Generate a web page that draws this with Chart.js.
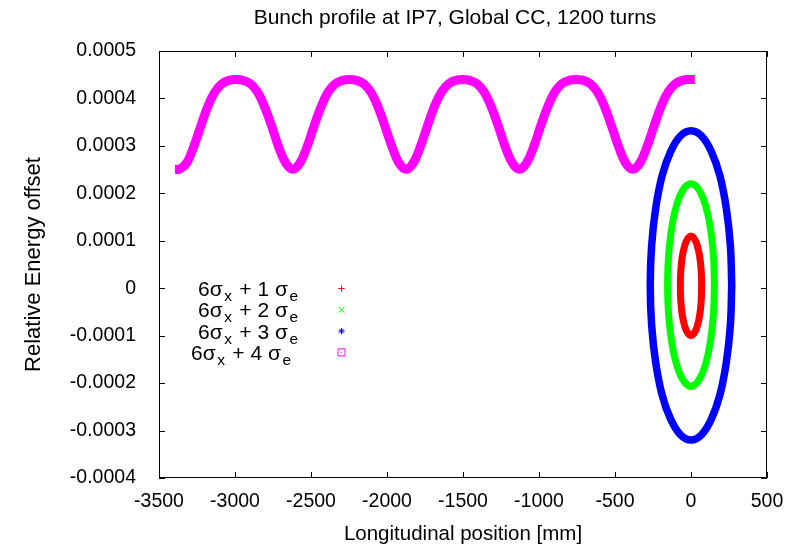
<!DOCTYPE html>
<html lang="en">
<head>
  <meta charset="UTF-8">
  <title>Bunch profile at IP7</title>
  <script src="https://cdn.jsdelivr.net/npm/chart.js"></script>
  <style>
    html, body {
      margin: 0;
      padding: 0;
      background: #fff;
    }
    #wrap {
      width: 802px;
      height: 547px;
    }
  </style>
</head>
<body>
  <div id="wrap"><canvas id="bunchChart" width="802" height="547"></canvas></div>

  <script>
    const FONT = "'Liberation Sans', Arial, Helvetica, sans-serif";
    const FONT_SIZE = 20.5;

    const xTicks = [-3500, -3000, -2500, -2000, -1500, -1000, -500, 0, 500];
    const xTickLabels = ['-3500', '-3000', '-2500', '-2000', '-1500', '-1000', '-500', '0', '500'];
    const yTicks = [-0.0004, -0.0003, -0.0002, -0.0001, 0, 0.0001, 0.0002, 0.0003, 0.0004, 0.0005];
    const yTickLabels = ['-0.0004', '-0.0003', '-0.0002', '-0.0001', '0', '0.0001', '0.0002', '0.0003', '0.0004', '0.0005'];

    // 6 sigma_x + 1 sigma_e : ellipse around the IP
    const redX = [70, 68, 61, 50, 35, 18, 0, -18, -35, -50, -61, -68, -70, -68, -61, -50, -35, -18, 0, 18, 35, 50, 61, 68, 70];
    const redY = [0.000005, 0.000032, 0.000058, 0.000079, 0.000096, 0.000106, 0.000110, 0.000106, 0.000096, 0.000079, 0.000058, 0.000032,
                  0.000005, -0.000022, -0.000048, -0.000069, -0.000086, -0.000096, -0.000100, -0.000096, -0.000086, -0.000069, -0.000048, -0.000022, 0.000005];

    // 6 sigma_x + 2 sigma_e
    const greenX = [154, 149, 133, 109, 77, 40, 0, -40, -77, -109, -133, -149, -154, -149, -133, -109, -77, -40, 0, 40, 77, 109, 133, 149, 154];
    const greenY = [0.000007, 0.000062, 0.000114, 0.000158, 0.000192, 0.000213, 0.000220, 0.000213, 0.000192, 0.000158, 0.000114, 0.000062,
                    0.000007, -0.000048, -0.000100, -0.000144, -0.000178, -0.000199, -0.000207, -0.000199, -0.000178, -0.000144, -0.000100, -0.000048, 0.000007];

    // 6 sigma_x + 3 sigma_e
    const blueX = [268, 259, 232, 190, 134, 69, 0, -69, -134, -190, -232, -259, -268, -259, -232, -190, -134, -69, 0, 69, 134, 190, 232, 259, 268];
    const blueY = [0.000006, 0.000090, 0.000169, 0.000237, 0.000288, 0.000321, 0.000332, 0.000321, 0.000288, 0.000237, 0.000169, 0.000090,
                   0.000006, -0.000078, -0.000157, -0.000225, -0.000276, -0.000309, -0.000320, -0.000309, -0.000276, -0.000225, -0.000157, -0.000078, 0.000006];

    // 6 sigma_x + 4 sigma_e : particles outside the bucket drifting along z
    const magentaX = [-3395,
      -3365, -3318, -3272, -3225, -3179, -3132, -3085, -3039, -2992, -2946, -2899, -2852, -2806, -2759, -2713, -2666,
      -2620, -2573, -2526, -2480, -2433, -2387, -2340, -2293, -2247, -2200, -2154, -2107, -2060, -2014, -1967, -1921,
      -1874, -1827, -1781, -1734, -1688, -1641, -1594, -1548, -1501, -1455, -1408, -1361, -1315, -1268, -1222, -1175,
      -1129, -1082, -1035, -989, -942, -896, -849, -802, -756, -709, -663, -616, -569, -523, -476, -430,
      -383, -336, -290, -243, -197, -150, -103, -57, -10,
      25];
    const magentaY = [0.000251,
      0.000251, 0.000264, 0.000298, 0.000342, 0.000383, 0.000414, 0.000431, 0.000438, 0.000440, 0.000438, 0.000431, 0.000414, 0.000383, 0.000342, 0.000298, 0.000264,
      0.000251, 0.000264, 0.000298, 0.000342, 0.000383, 0.000414, 0.000431, 0.000438, 0.000440, 0.000438, 0.000431, 0.000414, 0.000383, 0.000342, 0.000298, 0.000264,
      0.000251, 0.000264, 0.000298, 0.000342, 0.000383, 0.000414, 0.000431, 0.000438, 0.000440, 0.000438, 0.000431, 0.000414, 0.000383, 0.000342, 0.000298, 0.000264,
      0.000251, 0.000264, 0.000298, 0.000342, 0.000383, 0.000414, 0.000431, 0.000438, 0.000440, 0.000438, 0.000431, 0.000414, 0.000383, 0.000342, 0.000298, 0.000264,
      0.000251, 0.000264, 0.000298, 0.000342, 0.000383, 0.000414, 0.000431, 0.000438, 0.000440,
      0.000440];

    const seriesNames = ['6σ_x + 1 σ_e', '6σ_x + 2 σ_e', '6σ_x + 3 σ_e', '6σ_x + 4 σ_e'];
    const seriesColors = ['#ff0000', '#00ff00', '#0000ff', '#ff00ff'];
    const seriesMarkers = ['cross', 'crossRot', 'star', 'rect'];

    function pts(xs, ys) {
      return xs.map((x, i) => ({ x: x, y: ys[i] }));
    }

    // text with one-letter subscripts written as "_x", right aligned at xr
    function drawRich(ctx, text, xr, yBase) {
      const runs = [];
      for (let i = 0; i < text.length; i++) {
        if (text[i] === '_') {
          runs.push({ t: text[i + 1], sub: true });
          i++;
        } else if (runs.length && !runs[runs.length - 1].sub) {
          runs[runs.length - 1].t += text[i];
        } else {
          runs.push({ t: text[i], sub: false });
        }
      }
      const gap = 1.5;
      let total = 0;
      runs.forEach(r => {
        ctx.font = (r.sub ? 15.5 : 21) + 'px ' + FONT;
        r.w = ctx.measureText(r.t).width + gap;
        total += r.w;
      });
      let x = xr - total + gap;
      runs.forEach(r => {
        ctx.font = (r.sub ? 15.5 : 21) + 'px ' + FONT;
        ctx.fillText(r.t, x, r.sub ? yBase + 5 : yBase);
        x += r.w;
      });
    }

    // gnuplot style frame: closed border, inward ticks, title and key
    const gnuFrame = {
      id: 'gnuFrame',
      afterDraw(chart) {
        const { ctx, chartArea: a, scales } = chart;
        const tick = 6;
        ctx.save();
        ctx.strokeStyle = '#000';
        ctx.lineWidth = 1;
        ctx.beginPath();
        ctx.rect(a.left + 0.5, a.top + 0.5, a.right - a.left - 1, a.bottom - a.top - 1);
        scales.x.ticks.forEach(t => {
          const px = Math.round(scales.x.getPixelForValue(t.value)) + 0.5;
          ctx.moveTo(px, a.bottom);
          ctx.lineTo(px, a.bottom - tick);
          ctx.moveTo(px, a.top);
          ctx.lineTo(px, a.top + tick);
        });
        scales.y.ticks.forEach(t => {
          const py = Math.round(scales.y.getPixelForValue(t.value)) + 0.5;
          ctx.moveTo(a.left, py);
          ctx.lineTo(a.left + tick, py);
          ctx.moveTo(a.right, py);
          ctx.lineTo(a.right - tick, py);
        });
        ctx.stroke();

        // title
        ctx.fillStyle = '#000';
        ctx.textAlign = 'center';
        ctx.textBaseline = 'alphabetic';
        ctx.font = '21px ' + FONT;
        ctx.fillText('Bunch profile at IP7, Global CC, 1200 turns', 455, 24);

        // key
        ctx.textAlign = 'left';
        seriesNames.forEach((name, i) => {
          const base = 296 + i * 21.3;
          const shift = i === 3 ? -7 : 0;
          ctx.fillStyle = '#000';
          drawRich(ctx, name, 298 + shift, base);
          const mx = 341.5, my = base - 7.5;
          ctx.strokeStyle = seriesColors[i];
          ctx.fillStyle = 'rgba(0,0,0,0)';
          ctx.lineWidth = 1;
          const r = seriesMarkers[i] === 'rect' ? 5 : (seriesMarkers[i] === 'crossRot' ? 4.2 : 3.2);
          Chart.helpers.drawPoint(ctx, { pointStyle: seriesMarkers[i], radius: r, rotation: 0, borderWidth: 1 }, mx, my);
          if (seriesMarkers[i] === 'rect') {
            ctx.fillStyle = seriesColors[i];
            ctx.fillRect(Math.floor(mx), Math.floor(my), 1, 1);
          }
        });
        ctx.restore();
      }
    };

    const tickFont = { family: FONT, size: 19.5 };

    new Chart(document.getElementById('bunchChart'), {
      type: 'scatter',
      data: {
        datasets: [
          { label: seriesNames[0], data: pts(redX, redY), showLine: true, borderColor: seriesColors[0], borderWidth: 7, tension: 0.4, borderCapStyle: 'round', pointRadius: 0 },
          { label: seriesNames[1], data: pts(greenX, greenY), showLine: true, borderColor: seriesColors[1], borderWidth: 7, tension: 0.4, borderCapStyle: 'round', pointRadius: 0 },
          { label: seriesNames[2], data: pts(blueX, blueY), showLine: true, borderColor: seriesColors[2], borderWidth: 7.5, tension: 0.4, borderCapStyle: 'round', pointRadius: 0 },
          { label: seriesNames[3], data: pts(magentaX, magentaY), showLine: true, borderColor: seriesColors[3], borderWidth: 9, tension: 0.4, borderCapStyle: 'butt', pointRadius: 0 }
        ]
      },
      options: {
        responsive: false,
        animation: false,
        devicePixelRatio: 1,
        layout: { padding: { top: 51, right: 35, bottom: 0, left: 0 } },
        plugins: {
          legend: { display: false },
          tooltip: { enabled: false },
          title: { display: false }
        },
        scales: {
          x: {
            type: 'linear',
            min: -3500,
            max: 500,
            afterBuildTicks: s => { s.ticks = xTicks.map(v => ({ value: v })); },
            afterFit: s => { s.height = 69; },
            grid: { display: false },
            border: { display: false },
            ticks: { font: tickFont, color: '#000', padding: 4, maxRotation: 0, autoSkip: false, callback: (v, i) => xTickLabels[i] },
            title: { display: true, text: 'Longitudinal position [mm]', font: { family: FONT, size: FONT_SIZE }, color: '#000', padding: { top: 0, bottom: 0 } }
          },
          y: {
            type: 'linear',
            min: -0.0004,
            max: 0.0005,
            afterBuildTicks: s => { s.ticks = yTicks.map(v => ({ value: v })); },
            afterFit: s => { s.width = 159; },
            grid: { display: false },
            border: { display: false },
            ticks: { font: tickFont, color: '#000', padding: 15, autoSkip: false, callback: (v, i) => yTickLabels[i] },
            title: { display: true, text: 'Relative Energy offset', font: { family: FONT, size: 22 }, color: '#000', padding: { top: 21, bottom: 0 } }
          }
        }
      },
      plugins: [gnuFrame]
    });
  </script>
</body>
</html>
